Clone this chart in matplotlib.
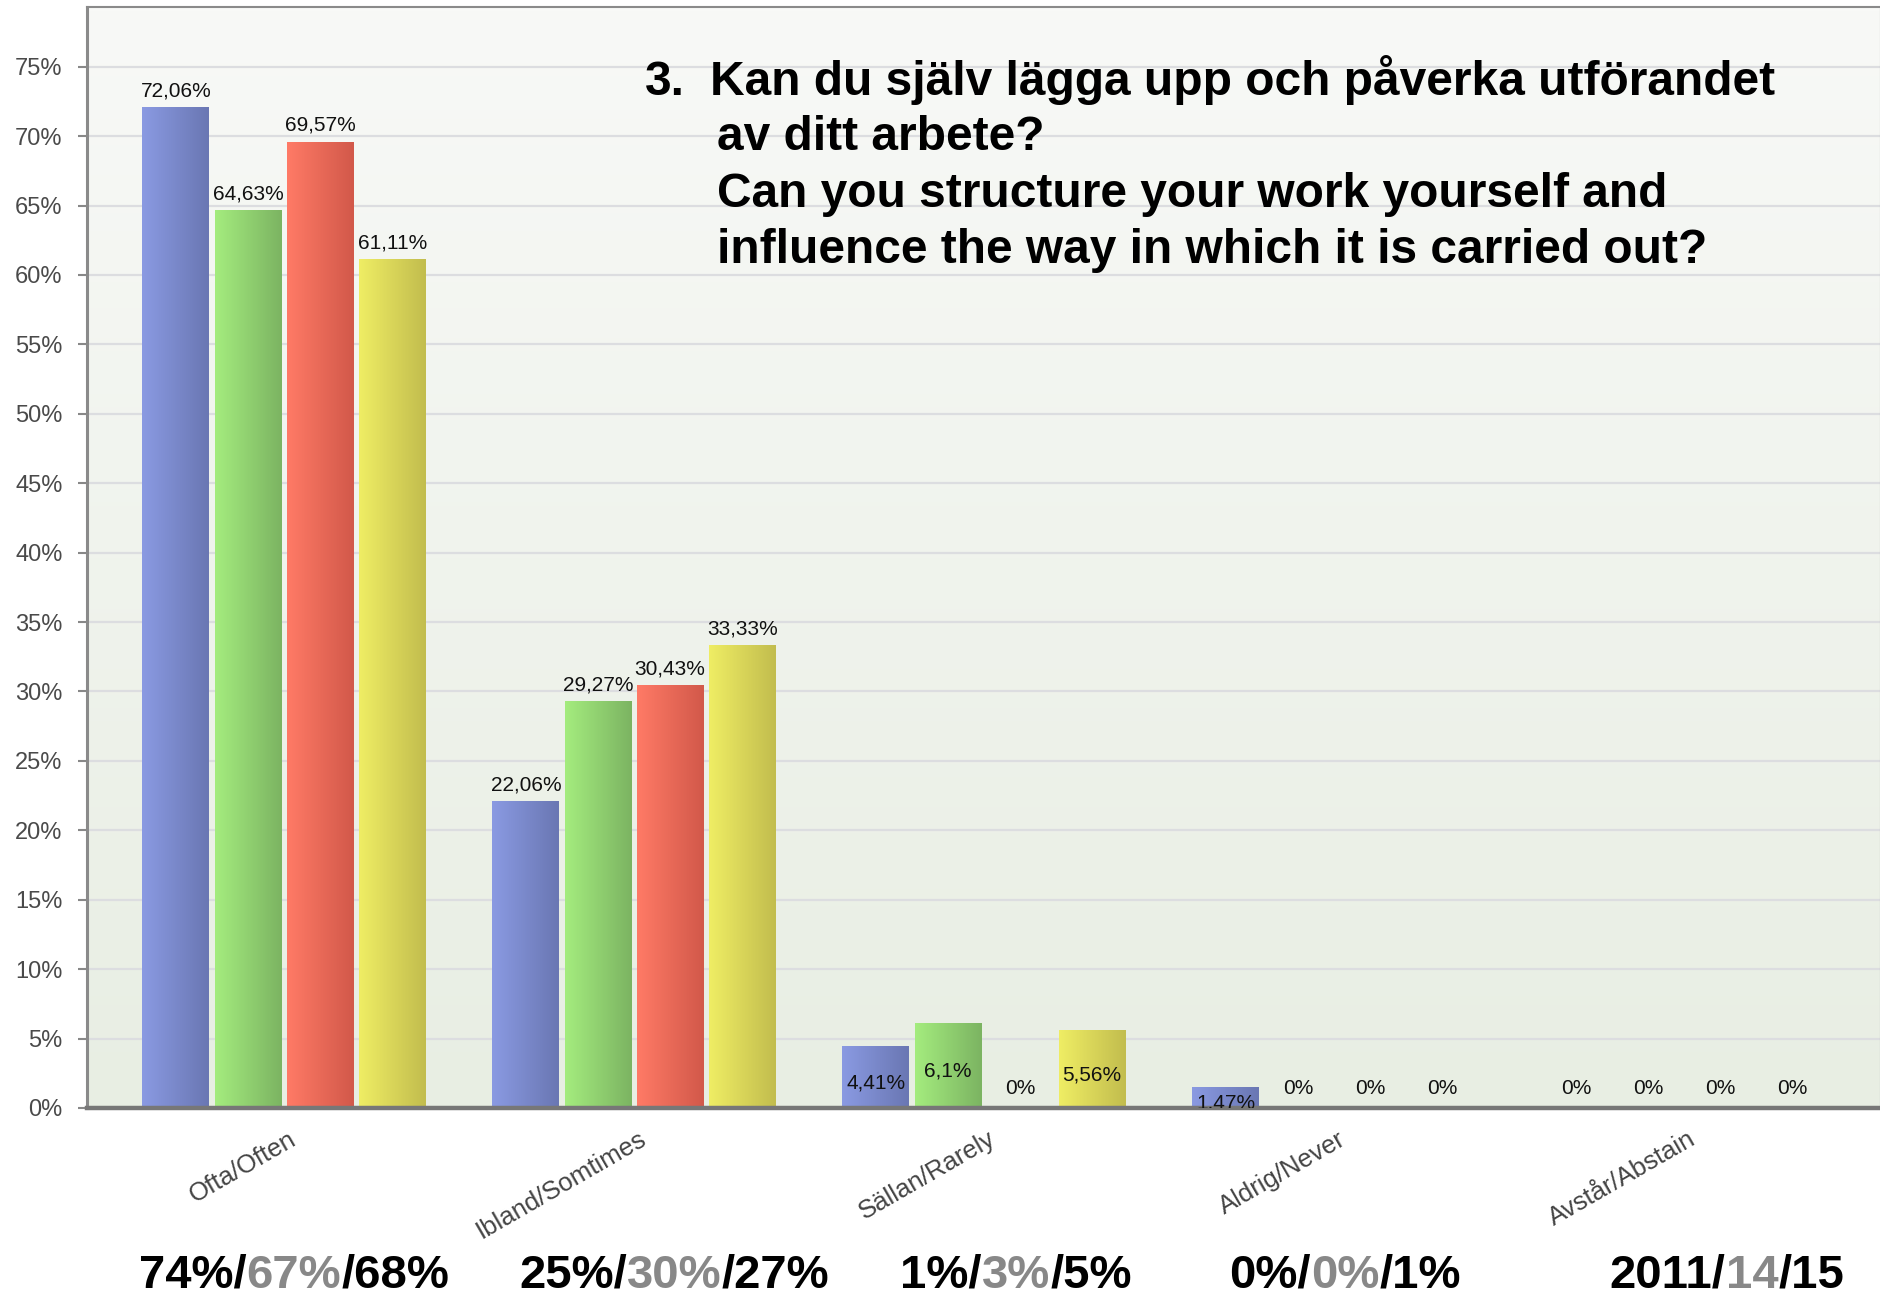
import matplotlib
matplotlib.use("Agg")
import matplotlib.pyplot as plt
from matplotlib.colors import LinearSegmentedColormap
from matplotlib import transforms
import numpy as np

plt.rcParams['font.family'] = ['Liberation Sans', 'DejaVu Sans']

# data
categories = ['Ofta/Often', 'Ibland/Somtimes', 'Sällan/Rarely', 'Aldrig/Never', 'Avstår/Abstain']
s_blue = [72.06, 22.06, 4.41, 1.47, 0]
s_green = [64.63, 29.27, 6.1, 0, 0]
s_red = [69.57, 30.43, 0, 0, 0]
s_yellow = [61.11, 33.33, 5.56, 0, 0]
yticks = list(range(0, 80, 5))
summary = [('74%/', '67%', '/68%'), ('25%/', '30%', '/27%'), ('1%/', '3%', '/5%'),
           ('0%/', '0%', '/1%'), ('2011/', '14', '/15')]
title_lines = ['Kan du själv lägga upp och påverka utförandet', 'av ditt arbete?',
               'Can you structure your work yourself and',
               'influence the way in which it is carried out?']

series = [s_blue, s_green, s_red, s_yellow]
grads = [('#8a9ae2', '#6a77b3'), ('#a4ec7e', '#7cb462'),
         ('#ff7a66', '#d2594a'), ('#efed64', '#c2bd4e')]

W, H = 1881, 1296
fig = plt.figure(figsize=(W / 100, H / 100), dpi=100)
ax = fig.add_axes([87 / W, 1 - 1108 / H, 1 - 87 / W, (1108 - 7) / H])

# background gradient
bg = LinearSegmentedColormap.from_list('bg', ['#e8eee3', '#f8f9f7'])
ax.imshow(np.linspace(0, 1, 256).reshape(-1, 1), cmap=bg, origin='lower',
          extent=[0, 1, 0, 1], transform=ax.transAxes, aspect='auto', zorder=0)

for t in yticks[1:]:
    ax.axhline(t, color='#dcdde0', lw=1.6, zorder=1)

x = np.arange(len(categories))
step = 0.206
width = 0.191
grad = np.linspace(0, 1, 64).reshape(1, -1)
for k, vals in enumerate(series):
    cm = LinearSegmentedColormap.from_list('c%d' % k, grads[k])
    for i, v in enumerate(vals):
        xc = x[i] + (k - 1.5) * step
        if v > 0:
            ax.imshow(grad, cmap=cm, extent=[xc - width / 2, xc + width / 2, 0, v],
                      aspect='auto', zorder=2, interpolation='bicubic')
        lab = ('%g' % v).replace('.', ',') + '%'
        if v >= 10:
            ax.annotate(lab, (xc, v), xytext=(0, 8), textcoords='offset points',
                        ha='center', va='baseline', fontsize=15, color='#111', zorder=3)
        elif v > 0:
            ax.text(xc, v / 2 - 0.4, lab, ha='center', va='center', fontsize=15,
                    color='#111', zorder=3, clip_on=True)
        else:
            ax.text(xc, 1.4, lab, ha='center', va='center', fontsize=15,
                    color='#111', zorder=3, clip_on=True)

ax.set_xlim(-0.563, 4.563)
ax.set_ylim(0, 79.3)
ax.set_yticks(yticks)
ax.set_yticklabels(['%d%%' % t for t in yticks], fontsize=17, color='#4a4a4a')
ax.tick_params(axis='y', length=6.5, width=1.5, color='#888', pad=11)
ax.set_xticks([])

for side in ['left', 'top', 'right']:
    ax.spines[side].set_color('#8a8a8a')
ax.spines['left'].set_linewidth(2.2)
ax.spines['top'].set_linewidth(1.5)
ax.spines['right'].set_linewidth(1.5)
ax.spines['bottom'].set_color('#777')
ax.spines['bottom'].set_linewidth(3.2)

# category labels
off = transforms.ScaledTranslation(4 / 100, -19 / 100, fig.dpi_scale_trans)
tr = transforms.blended_transform_factory(ax.transData, ax.transAxes) + off
for i, c in enumerate(categories):
    ax.text(x[i], 0, c, transform=tr, rotation=30, rotation_mode='anchor',
            ha='right', va='top', fontsize=18.5, color='#444')

# title
fig.text(645 / W, 1 - 95 / H, '3.', fontsize=34.5, fontweight='bold', va='baseline')
for j, (line, yb) in enumerate(zip(title_lines, [95, 150, 207, 263])):
    xl = 710 if j == 0 else 717
    fig.text(xl / W, 1 - yb / H, line, fontsize=34.5, fontweight='bold', va='baseline')

# summary labels under the chart
centers = [294, 674, 1016, 1345, 1727]
fig.canvas.draw()
r = fig.canvas.get_renderer()
for cx, parts in zip(centers, summary):
    texts = [fig.text(0, 1 - 1288 / H, p, fontsize=34, fontweight='bold', va='baseline',
                      color=col) for p, col in zip(parts, ['black', '#888', 'black'])]
    widths = [t.get_window_extent(r).width for t in texts]
    xs = cx - sum(widths) / 2
    for t, w in zip(texts, widths):
        t.set_x(xs / W)
        xs += w

fig.savefig('out.png', dpi=100)
